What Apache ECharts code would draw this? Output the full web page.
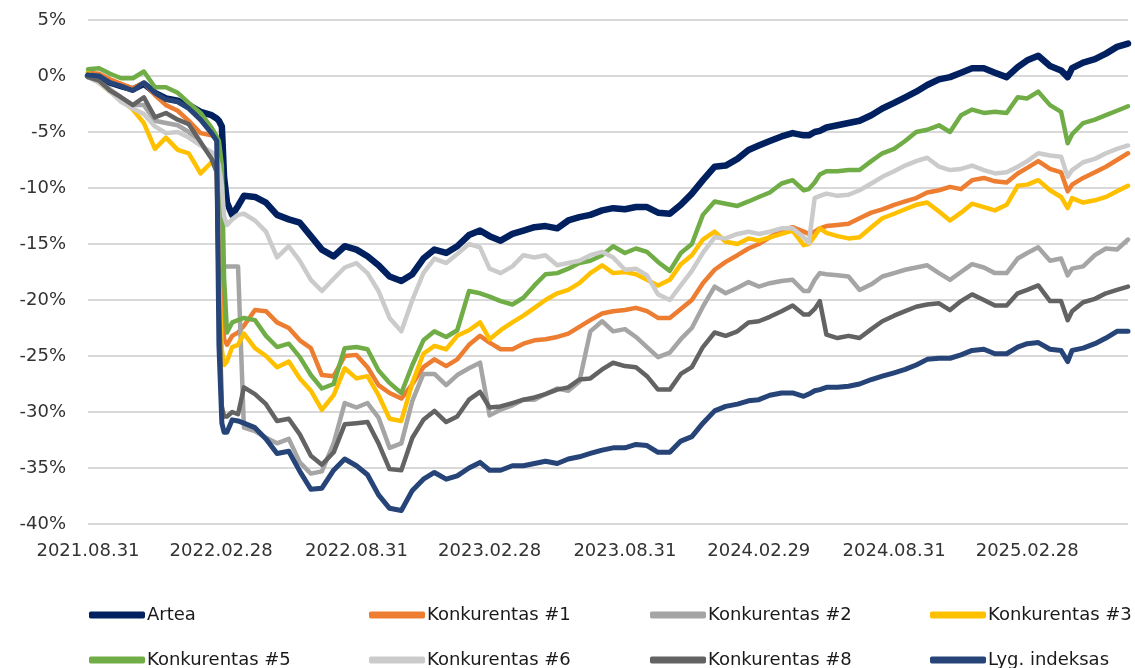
<!DOCTYPE html>
<html>
<head>
<meta charset="utf-8">
<script src="https://cdn.jsdelivr.net/npm/echarts@6/dist/echarts.min.js"></script>
<style>
  html, body { margin: 0; padding: 0; background: #fff; }
  #chart { width: 1135px; height: 668px; }
</style>
</head>
<body>
<div id="chart"></div>
<script>
// datos (%, palyginti su 2021.08.31)
var dates = [
  '2021.08.31','2021.09.15','2021.09.30','2021.10.15','2021.10.31','2021.11.15','2021.11.30','2021.12.15','2021.12.31','2022.01.15',
  '2022.01.31','2022.02.15','2022.02.22','2022.02.25','2022.03.01','2022.03.04','2022.03.08','2022.03.15','2022.03.23','2022.03.31',
  '2022.04.15','2022.04.30','2022.05.15','2022.05.31','2022.06.15','2022.06.30','2022.07.15','2022.07.31','2022.08.15','2022.08.31',
  '2022.09.15','2022.09.30','2022.10.15','2022.10.31','2022.11.15','2022.11.30','2022.12.15','2022.12.31','2023.01.15','2023.01.31',
  '2023.02.15','2023.02.28','2023.03.15','2023.03.31','2023.04.15','2023.04.30','2023.05.15','2023.05.31','2023.06.15','2023.06.30',
  '2023.07.15','2023.07.31','2023.08.15','2023.08.31','2023.09.15','2023.09.30','2023.10.15','2023.10.31','2023.11.15','2023.11.30',
  '2023.12.15','2023.12.31','2024.01.15','2024.01.31','2024.02.15','2024.02.29','2024.03.15','2024.03.31','2024.04.15','2024.04.30',
  '2024.05.07','2024.05.15','2024.05.22','2024.05.31','2024.06.15','2024.06.30','2024.07.15','2024.07.31','2024.08.15','2024.08.31',
  '2024.09.15','2024.09.30','2024.10.15','2024.10.31','2024.11.15','2024.11.30','2024.12.15','2024.12.31','2025.01.15','2025.01.31',
  '2025.02.15','2025.02.28','2025.03.15','2025.03.31','2025.04.15','2025.04.24','2025.04.30','2025.05.15','2025.05.31','2025.06.15',
  '2025.06.30','2025.07.15'
];

var tickLabels = ['2021.08.31','2022.02.28','2022.08.31','2023.02.28','2023.08.31','2024.02.29','2024.08.31','2025.02.28'];

var artea = [
  0.0, -0.2, -0.6, -0.9, -1.2, -0.7, -1.5, -2.0, -2.2, -2.6,
  -3.2, -3.5, -3.8, -4.0, -4.5, -9.0, -11.3, -12.4, -11.6, -10.7,
  -10.8, -11.3, -12.4, -12.8, -13.1, -14.3, -15.5, -16.1, -15.2, -15.5,
  -16.1, -16.9, -17.9, -18.3, -17.7, -16.3, -15.5, -15.8, -15.2, -14.2,
  -13.8, -14.3, -14.7, -14.1, -13.8, -13.5, -13.4, -13.6, -12.9, -12.6,
  -12.4, -12.0, -11.8, -11.9, -11.7, -11.7, -12.2, -12.3, -11.5, -10.5,
  -9.3, -8.1, -8.0, -7.4, -6.6, -6.2, -5.8, -5.4, -5.1, -5.3,
  -5.3, -5.0, -4.9, -4.6, -4.4, -4.2, -4.0, -3.5, -2.9, -2.4,
  -1.9, -1.4, -0.8, -0.3, -0.1, 0.3, 0.7, 0.7, 0.3, -0.1,
  0.8, 1.4, 1.8, 0.9, 0.5, -0.1, 0.7, 1.2, 1.5, 2.0,
  2.6, 2.9
];
var konk1 = [
  0.3, 0.2, -0.3, -0.7, -1.1, -0.6, -1.7, -2.6, -3.1, -4.0,
  -5.1, -5.3, -5.6, -9.0, -20.0, -23.5, -24.0, -23.2, -22.9, -22.3,
  -20.9, -21.0, -22.0, -22.5, -23.6, -24.3, -26.7, -26.8, -25.0, -24.9,
  -26.0, -27.6, -28.3, -28.8, -27.5, -26.0, -25.3, -25.9, -25.3, -24.0,
  -23.2, -23.8, -24.4, -24.4, -23.9, -23.6, -23.5, -23.3, -23.0, -22.4,
  -21.8, -21.2, -21.0, -20.9, -20.7, -21.0, -21.6, -21.6, -20.8, -20.0,
  -18.5, -17.3, -16.6, -16.0, -15.4, -15.0, -14.4, -13.8, -13.5, -13.9,
  -14.1, -13.9, -13.6, -13.4, -13.3, -13.2, -12.7, -12.2, -11.9, -11.5,
  -11.2, -10.9, -10.4, -10.2, -9.9, -10.1, -9.3, -9.1, -9.4, -9.5,
  -8.7, -8.2, -7.6, -8.3, -8.6, -10.3, -9.7, -9.1, -8.6, -8.1,
  -7.5, -6.9
];
var konk2 = [
  0.0, -0.5, -1.2, -1.9, -2.6, -2.6, -4.0, -4.2, -4.4, -5.0,
  -6.0, -7.3, -8.5, -12.0, -16.5, -17.0, -17.0, -17.0, -17.0, -31.4,
  -31.7, -32.3, -32.8, -32.4, -34.5, -35.5, -35.3, -32.8, -29.2, -29.6,
  -29.2, -30.5, -33.2, -32.8, -29.0, -26.6, -26.6, -27.6, -26.7, -26.1,
  -25.6, -30.3, -29.8, -29.4, -28.9, -28.9, -28.4, -27.9, -28.1, -27.3,
  -22.8, -21.9, -22.8, -22.6, -23.3, -24.2, -25.1, -24.7, -23.5, -22.5,
  -20.6, -18.8, -19.4, -18.9, -18.4, -18.8, -18.5, -18.3, -18.2, -19.2,
  -19.2, -18.2, -17.6, -17.7, -17.8, -17.9, -19.1, -18.6, -17.9, -17.6,
  -17.3, -17.1, -16.9, -17.6, -18.2, -17.5, -16.8, -17.1, -17.6, -17.6,
  -16.3, -15.8, -15.3, -16.5, -16.3, -17.8, -17.2, -17.0, -16.0, -15.4,
  -15.5, -14.6
];
var konk3 = [
  0.3, -0.6, -1.4, -2.1, -3.0, -4.2, -6.5, -5.5, -6.6, -6.9,
  -8.7, -7.7, -8.3, -18.0, -24.5, -25.8, -25.5, -24.2, -24.0, -23.0,
  -24.3, -25.0, -26.0, -25.5, -27.0, -28.1, -29.8, -28.5, -26.1, -27.0,
  -26.8, -28.5, -30.6, -30.8, -27.4, -24.8, -24.1, -24.4, -23.2, -22.7,
  -22.0, -23.5, -22.7, -22.0, -21.4, -20.7, -20.0, -19.4, -19.1, -18.5,
  -17.6, -16.9, -17.6, -17.5, -17.7, -18.2, -18.7, -18.2, -16.8, -16.0,
  -14.6, -13.9, -14.8, -15.0, -14.5, -14.7, -14.4, -14.1, -13.8, -15.1,
  -15.0, -14.3, -13.6, -14.0, -14.3, -14.5, -14.4, -13.5, -12.7, -12.3,
  -11.9, -11.5, -11.3, -12.1, -12.9, -12.2, -11.4, -11.7, -12.0, -11.5,
  -9.8, -9.7, -9.3, -10.2, -10.8, -11.8, -10.9, -11.3, -11.1, -10.8,
  -10.3, -9.8
];
var konk5 = [
  0.6, 0.7, 0.2, -0.2, -0.2, 0.4, -1.0, -1.0, -1.5, -2.4,
  -3.3, -4.6, -5.4, -5.8, -8.0, -18.0, -22.9, -22.0, -21.8, -21.6,
  -21.8, -23.2, -24.2, -23.9, -25.1, -26.7, -27.9, -27.5, -24.3, -24.2,
  -24.4, -26.3, -27.4, -28.3, -25.8, -23.6, -22.8, -23.3, -22.7, -19.2,
  -19.4, -19.7, -20.1, -20.4, -19.8, -18.7, -17.7, -17.6, -17.2, -16.7,
  -16.5, -16.0, -15.2, -15.8, -15.4, -15.7, -16.6, -17.4, -15.8, -15.0,
  -12.4, -11.2, -11.4, -11.6, -11.2, -10.8, -10.4, -9.6, -9.3, -10.2,
  -10.1, -9.5, -8.8, -8.5, -8.5, -8.4, -8.4, -7.6, -6.9, -6.5,
  -5.8, -5.0, -4.8, -4.4, -5.0, -3.5, -3.0, -3.3, -3.2, -3.3,
  -1.9, -2.0, -1.4, -2.6, -3.2, -6.0, -5.2, -4.2, -3.9, -3.5,
  -3.1, -2.7
];
var konk6 = [
  -0.1, -0.6, -1.4, -2.3, -2.9, -3.4, -4.5, -5.1, -5.0, -5.5,
  -6.2, -6.8, -7.1, -8.0, -9.7, -12.5, -13.3, -12.8, -12.4, -12.3,
  -12.9, -13.9, -16.2, -15.2, -16.5, -18.2, -19.2, -18.1, -17.1, -16.7,
  -17.6, -19.2, -21.6, -22.8, -20.0, -17.6, -16.3, -16.7, -15.9, -15.0,
  -15.3, -17.2, -17.6, -17.0, -16.0, -16.2, -16.0, -16.9, -16.7, -16.5,
  -16.0, -15.7, -16.2, -17.3, -17.2, -17.8, -19.5, -20.0, -18.7, -17.4,
  -15.8, -14.4, -14.5, -14.1, -13.9, -14.1, -13.9, -13.6, -13.6, -14.4,
  -14.9, -10.9, -10.7, -10.5, -10.7, -10.6, -10.2, -9.6, -9.0, -8.5,
  -8.0, -7.6, -7.3, -8.1, -8.4, -8.3, -8.0, -8.4, -8.7, -8.6,
  -8.1, -7.6, -6.9, -7.1, -7.2, -9.0, -8.4, -7.7, -7.4, -6.9,
  -6.5, -6.2
];
var konk8 = [
  -0.1, -0.4, -1.3, -1.9, -2.6, -1.9, -3.7, -3.3, -3.9, -4.3,
  -5.9, -7.4, -8.6, -20.0, -29.5, -30.4, -30.4, -30.0, -30.2, -27.8,
  -28.4, -29.3, -30.8, -30.6, -32.0, -33.9, -34.7, -33.6, -31.1, -31.0,
  -30.9, -32.8, -35.1, -35.2, -32.3, -30.7, -29.9, -30.9, -30.4, -28.9,
  -28.2, -29.6, -29.5, -29.2, -28.9, -28.7, -28.4, -28.0, -27.8, -27.1,
  -27.0, -26.2, -25.6, -25.9, -26.0, -26.8, -28.0, -28.0, -26.6, -26.0,
  -24.2, -22.9, -23.2, -22.8, -22.0, -21.9, -21.5, -21.0, -20.5, -21.3,
  -21.3, -20.8, -20.1, -23.1, -23.4, -23.2, -23.4, -22.6, -21.9, -21.4,
  -21.0, -20.6, -20.4, -20.3, -20.9, -20.1, -19.5, -20.0, -20.5, -20.5,
  -19.4, -19.1, -18.7, -20.1, -20.1, -21.8, -21.0, -20.2, -19.9, -19.4,
  -19.1, -18.8
];
var lygIndeksas = [
  0.1, 0.0, -0.6, -0.9, -1.3, -0.6, -1.5, -2.1, -2.3, -2.9,
  -3.9, -5.1, -5.8, -24.0, -31.0, -31.8, -31.8, -30.7, -30.8, -31.0,
  -31.4, -32.4, -33.7, -33.5, -35.3, -36.9, -36.8, -35.2, -34.2, -34.8,
  -35.6, -37.4, -38.6, -38.8, -37.0, -36.0, -35.4, -36.0, -35.7, -35.0,
  -34.5, -35.2, -35.2, -34.8, -34.8, -34.6, -34.4, -34.6, -34.2, -34.0,
  -33.7, -33.4, -33.2, -33.2, -32.9, -33.0, -33.6, -33.6, -32.6, -32.2,
  -31.0, -29.9, -29.5, -29.3, -29.0, -28.9, -28.5, -28.3, -28.3, -28.6,
  -28.4, -28.1, -28.0, -27.8, -27.8, -27.7, -27.5, -27.1, -26.8, -26.5,
  -26.2, -25.8, -25.3, -25.2, -25.2, -24.9, -24.5, -24.4, -24.8, -24.8,
  -24.2, -23.9, -23.8, -24.4, -24.5, -25.5, -24.5, -24.3, -23.9, -23.4,
  -22.8, -22.8
];

var seriesNames = ['Artea', 'Konkurentas #1', 'Konkurentas #2', 'Konkurentas #3',
                   'Konkurentas #5', 'Konkurentas #6', 'Konkurentas #8', 'Lyg. indeksas'];
var seriesValues = [artea, konk1, konk2, konk3, konk5, konk6, konk8, lygIndeksas];
var seriesColors = ['#002060', '#ed7d31', '#a5a5a5', '#ffc000', '#70ad47', '#cbcbcb', '#636363', '#264478'];
var seriesWidths = [6.5, 4.5, 4.5, 4.5, 4.5, 4.5, 4.5, 5];

// dienos nuo pradzios
function toDay(s) {
  var p = s.split('.');
  var t = Date.UTC(+p[0], +p[1] - 1, +p[2]);
  var p0 = dates[0].split('.');
  var t0 = Date.UTC(+p0[0], +p0[1] - 1, +p0[2]);
  return Math.round((t - t0) / 86400000);
}
var days = dates.map(toDay);
var tickDays = tickLabels.map(toDay);

var myChart = echarts.init(document.getElementById('chart'));

var series = [];
for (var i = 0; i < seriesNames.length; i++) {
  series.push({
    name: seriesNames[i],
    type: 'line',
    symbol: 'none',
    showSymbol: false,
    data: days.map(function(d, j) { return [d, seriesValues[i][j]]; }),
    lineStyle: { color: seriesColors[i], width: seriesWidths[i], cap: 'round', join: 'round' },
    itemStyle: { color: seriesColors[i] },
    z: 2 + i
  });
}

// legenda: 2 eilutes po 4
var legendLeft = [84, 364, 645, 925];
var legendTop = [601, 646];
var legends = [];
for (var k = 0; k < seriesNames.length; k++) {
  legends.push({
    data: [seriesNames[k]],
    left: legendLeft[k % 4],
    top: legendTop[Math.floor(k / 4)],
    icon: 'roundRect',
    itemWidth: 56,
    itemHeight: 7,
    selectedMode: false,
    textStyle: { fontFamily: 'DejaVu Sans', fontSize: 18, color: '#1a1a1a', padding: [0, 0, 0, -3] }
  });
}

var option = {
  animation: false,
  backgroundColor: '#fff',
  grid: { left: 88, right: 7, top: 20, bottom: 144, containLabel: false },
  legend: legends,
  xAxis: {
    type: 'value',
    min: 0,
    max: days[days.length - 1],
    axisLine: { show: false },
    axisTick: { show: false },
    splitLine: { show: false },
    axisLabel: {
      customValues: tickDays,
      margin: 18,
      fontFamily: 'DejaVu Sans',
      fontSize: 18,
      color: '#333',
      formatter: function(v) {
        var idx = tickDays.indexOf(Math.round(v));
        return idx >= 0 ? tickLabels[idx] : '';
      }
    }
  },
  yAxis: {
    type: 'value',
    min: -40,
    max: 5,
    interval: 5,
    axisLine: { show: false },
    axisTick: { show: false },
    splitLine: { lineStyle: { color: '#d9d9d9', width: 2 } },
    axisLabel: {
      margin: 22,
      fontFamily: 'DejaVu Sans',
      fontSize: 18,
      color: '#333',
      formatter: '{value}%'
    }
  },
  series: series
};
myChart.setOption(option);
</script>
</body>
</html>
